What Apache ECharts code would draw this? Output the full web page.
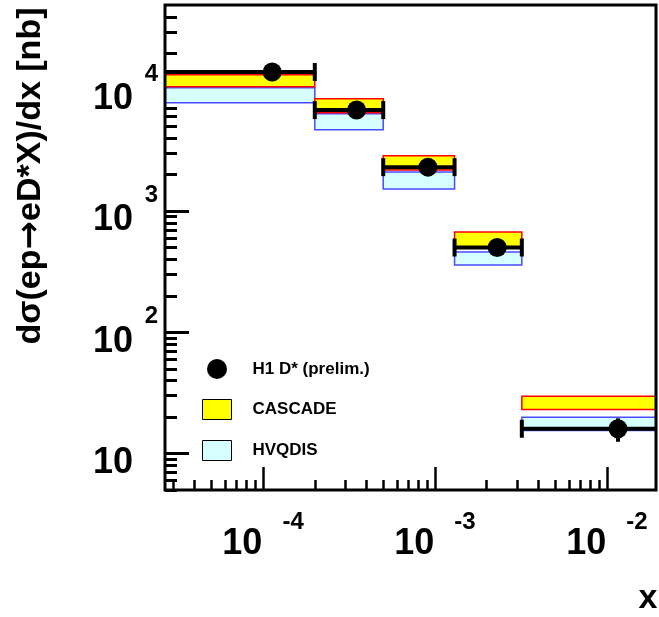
<!DOCTYPE html>
<html><head><meta charset="utf-8">
<script src="https://cdn.jsdelivr.net/npm/echarts@6/dist/echarts.min.js"></script>
<style>html,body{margin:0;padding:0;background:#fff}#c{width:659px;height:617px}</style>
</head><body><div id="c"></div>
<script>
// ---- data ----
const xBinLo = [1e-5, 2e-4, 5e-4, 1.3e-3, 3.2e-3];
const xBinHi = [2e-4, 5e-4, 1.3e-3, 3.2e-3, 5e-2];
const xData  = [1.13e-4, 3.5e-4, 9.1e-4, 2.3e-3, 1.16e-2];
const yData  = [14000, 6800, 2300, 500, 16];
const yErr   = [700, 300, 100, 25, 3.5];
const cascadeLo = [10600, 6460, 2180, 504, 23.1];
const cascadeHi = [13300, 8430, 2850, 670, 29.6];
const hvqdisLo  = [7820, 4670, 1520, 358, 15.5];
const hvqdisHi  = [10400, 6340, 2100, 458, 19.9];
// ---- axis ticks / labels ----
const xMajorTicks = [1e-4, 1e-3, 1e-2];
const xTickExp = ['-4', '-3', '-2'];
const xMinorTicks = [3e-5,4e-5,5e-5,6e-5,7e-5,8e-5,9e-5,
  2e-4,3e-4,4e-4,5e-4,6e-4,7e-4,8e-4,9e-4,
  2e-3,3e-3,4e-3,5e-3,6e-3,7e-3,8e-3,9e-3];
const yMajorTicks = [10, 100, 1000, 10000];
const yTickExp = ['', '2', '3', '4'];
const yMinorTicks = [5,6,7,8,9,20,30,40,50,60,70,80,90,
  200,300,400,500,600,700,800,900,
  2000,3000,4000,5000,6000,7000,8000,9000,20000,30000,40000];
const legendNames = ['H1 D* (prelim.)', 'CASCADE', 'HVQDIS'];
const yTitleParts = ['dσ(ep', '→', 'eD*X)/dx [nb]'];
const xTitle = 'x';

const FONT = '"Liberation Sans", Arial, Helvetica, sans-serif';
const X_MIN = 2.69e-5, X_MAX = 0.0193, Y_MIN = 5, Y_MAX = 5e4;

function idxOf(arr, v){ return arr.findIndex(t => Math.abs(Math.log10(t / v)) < 1e-6); }

const chart = echarts.init(document.getElementById('c'), null, {renderer: 'canvas'});

function bandRender(fill, stroke) {
  return function (params, api) {
    const p1 = api.coord([api.value(0), api.value(3)]);
    const p2 = api.coord([api.value(1), api.value(2)]);
    return {type: 'rect', shape: {x: p1[0], y: p1[1], width: p2[0] - p1[0], height: p2[1] - p1[1]},
      style: {fill: fill, stroke: stroke, lineWidth: 1.5}};
  };
}

const xLabelRich = {
  b: {fontFamily: FONT, fontWeight: 'bold', fontSize: 36, color: '#000', verticalAlign: 'bottom', padding: [16, 0, 0, 0]},
  e: {fontFamily: FONT, fontWeight: 'bold', fontSize: 24, color: '#000', verticalAlign: 'top', padding: [0, 0, 0, 20]}
};
const yLabelRich = {
  b: {fontFamily: FONT, fontWeight: 'bold', fontSize: 36, color: '#000', verticalAlign: 'bottom', padding: [19, 0, 0, 0]},
  e: {fontFamily: FONT, fontWeight: 'bold', fontSize: 24, color: '#000', verticalAlign: 'top', width: 14, padding: [0, 0, 0, 11]}
};

const baseX = {type: 'log', logBase: 10, min: X_MIN, max: X_MAX, position: 'bottom',
  axisLine: {show: false}, splitLine: {show: false}};
const baseY = {type: 'log', logBase: 10, min: Y_MIN, max: Y_MAX, position: 'left',
  axisLine: {show: false}, splitLine: {show: false}};

const option = {
  animation: false,
  backgroundColor: '#fff',
  grid: {left: 165, right: 3, top: 5, bottom: 127, show: true, borderColor: '#000', borderWidth: 3,
    backgroundColor: 'rgba(0,0,0,0)', z: 10},
  xAxis: [
    Object.assign({}, baseX, {
      axisTick: {inside: true, length: 23, lineStyle: {width: 2.5, color: '#000'}, customValues: xMajorTicks},
      axisLabel: {customValues: xMajorTicks, margin: 20, rich: xLabelRich,
        formatter: v => '{b|10}{e|' + xTickExp[idxOf(xMajorTicks, v)] + '}'}
    }),
    Object.assign({}, baseX, {
      axisTick: {inside: true, length: 10, lineStyle: {width: 2.5, color: '#000'}, customValues: xMinorTicks},
      axisLabel: {show: false}
    })
  ],
  yAxis: [
    Object.assign({}, baseY, {
      axisTick: {inside: true, length: 24, lineStyle: {width: 3, color: '#000'}, customValues: yMajorTicks},
      axisLabel: {customValues: yMajorTicks, margin: 7, align: 'right', rich: yLabelRich,
        formatter: v => '{b|10}{e|' + (yTickExp[idxOf(yMajorTicks, v)] || ' ') + '}'}
    }),
    Object.assign({}, baseY, {
      axisTick: {inside: true, length: 12, lineStyle: {width: 3, color: '#000'}, customValues: yMinorTicks},
      axisLabel: {show: false}
    })
  ],
  legend: {
    orient: 'vertical', left: 197, top: 354, itemWidth: 29, itemHeight: 20, itemGap: 20,
    selectedMode: false,
    textStyle: {fontFamily: FONT, fontWeight: 'bold', fontSize: 17, color: '#000', padding: [0, 0, 0, 16]},
    data: [
      {name: legendNames[0], icon: 'circle', itemStyle: {color: '#000', borderWidth: 0, opacity: 1}},
      {name: legendNames[1], icon: 'rect', itemStyle: {color: '#ffff00', borderColor: '#000', borderWidth: 1}},
      {name: legendNames[2], icon: 'rect', itemStyle: {color: '#d6ffff', borderColor: '#000', borderWidth: 1}}
    ]
  },
  graphic: [
    {type: 'text', x: 31, y: 176, rotation: Math.PI / 2,
      style: {text: '{t|' + yTitleParts[0] + '}{a|' + yTitleParts[1] + '}{t|' + yTitleParts[2] + '}',
        align: 'center', verticalAlign: 'middle',
        rich: {
          t: {fontFamily: FONT, fontWeight: 'bold', fontSize: 34, fill: '#000'},
          a: {fontFamily: '"DejaVu Sans"', fontWeight: 'bold', fontSize: 34, fill: '#000'}
        }}},
    {type: 'text', x: 648, y: 599,
      style: {text: xTitle, fontFamily: FONT, fontWeight: 'bold', fontSize: 34, fill: '#000', align: 'center', verticalAlign: 'middle'}}
  ],
  series: [
    {type: 'custom', name: legendNames[2], xAxisIndex: 0, yAxisIndex: 0, clip: true, z: 2,
      itemStyle: {color: '#d6ffff'},
      encode: {x: [0, 1], y: [2, 3]},
      data: xBinLo.map((v, i) => [v, xBinHi[i], hvqdisLo[i], hvqdisHi[i]]),
      renderItem: bandRender('#d6ffff', '#4b4bff')},
    {type: 'custom', name: legendNames[1], xAxisIndex: 0, yAxisIndex: 0, clip: true, z: 3,
      itemStyle: {color: '#ffff00'},
      encode: {x: [0, 1], y: [2, 3]},
      data: xBinLo.map((v, i) => [v, xBinHi[i], cascadeLo[i], cascadeHi[i]]),
      renderItem: bandRender('#ffff00', '#ff0000')},
    {type: 'custom', name: 'errors', xAxisIndex: 0, yAxisIndex: 0, clip: true, z: 4,
      encode: {x: [0, 1, 2], y: [3]},
      data: xBinLo.map((v, i) => [v, xBinHi[i], xData[i], yData[i], yErr[i]]),
      renderItem: function (params, api) {
        const xl = api.value(0), xh = api.value(1), x = api.value(2), y = api.value(3), e = api.value(4);
        const pl = api.coord([xl, y]), ph = api.coord([xh, y]);
        const pt = api.coord([x, y + e]), pb = api.coord([x, y - e]);
        const st = {stroke: '#000', lineWidth: 4};
        return {type: 'group', children: [
          {type: 'line', shape: {x1: pl[0], y1: pl[1], x2: ph[0], y2: ph[1]}, style: st},
          {type: 'line', shape: {x1: pl[0], y1: pl[1] - 9, x2: pl[0], y2: pl[1] + 9}, style: st},
          {type: 'line', shape: {x1: ph[0], y1: ph[1] - 9, x2: ph[0], y2: ph[1] + 9}, style: st},
          {type: 'line', shape: {x1: pt[0], y1: pt[1], x2: pb[0], y2: pb[1]}, style: st}
        ]};
      }},
    {type: 'scatter', name: legendNames[0], xAxisIndex: 0, yAxisIndex: 0, z: 5,
      symbol: 'circle', symbolSize: 19, itemStyle: {color: '#000', opacity: 1},
      data: xData.map((v, i) => [v, yData[i]])}
  ]
};
chart.setOption(option);
</script></body></html>
